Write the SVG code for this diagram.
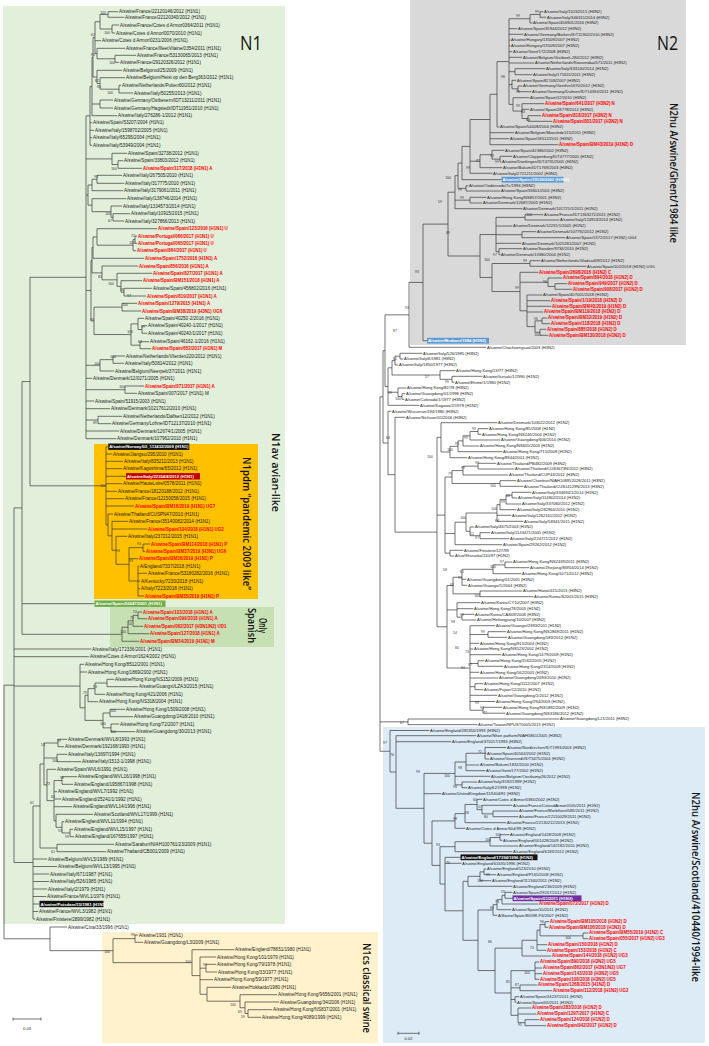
<svg xmlns="http://www.w3.org/2000/svg" width="709" height="1046" viewBox="0 0 709 1046">
<style>
.t{font:4.6px "Liberation Sans",Arial,sans-serif;fill:#1a1a1a}
.u{font:4.1px "Liberation Sans",Arial,sans-serif;fill:#1a1a1a}
.r{fill:#f00;font-weight:bold;font-size:4.45px}
.u.r{font-size:3.85px}
.w{fill:#fff;font-weight:bold;font-size:4.2px}
.u.w{font-size:3.8px}
.bs{font:3.4px "Liberation Sans",Arial,sans-serif;fill:#333;text-anchor:middle}
.edges path{fill:none;stroke:#3a3a3a;stroke-width:0.7}
.big{font-family:"Open Sans","Liberation Sans",sans-serif;font-weight:600;font-size:10.5px;fill:#111;text-anchor:middle}
.hd{font-family:"Open Sans","Liberation Sans",sans-serif;font-size:20px;fill:#111}
.sc{font:4px "Liberation Sans",Arial,sans-serif;fill:#222;text-anchor:middle}
</style>
<rect width="709" height="1046" fill="#fff"/>
<g id="backgrounds">
<rect x="3" y="6" width="282" height="918" fill="#e2efda"/>
<rect x="94" y="444" width="164" height="155" fill="#ffc000"/>
<rect x="110" y="607" width="164" height="40" fill="#c6e0b4"/>
<rect x="102" y="932" width="276" height="111" fill="#fff2cc"/>
<rect x="410" y="0" width="276" height="345" fill="#d9d9d9"/>
<rect x="383" y="727" width="322" height="316" fill="#ddebf7"/>
</g>
<g id="clade-labels">
<text class="hd" x="240" y="50" textLength="22" lengthAdjust="spacingAndGlyphs">N1</text>
<text class="hd" x="657" y="50" textLength="21" lengthAdjust="spacingAndGlyphs">N2</text>
<text class="big" transform="translate(272,472.5) rotate(90)" textLength="79" lengthAdjust="spacingAndGlyphs">N1av avian-like</text>
<text class="big" transform="translate(243,523.5) rotate(90)" textLength="133" lengthAdjust="spacingAndGlyphs">N1pdm “pandemic 2009 like”</text>
<text class="big" transform="translate(258.5,625.5) rotate(90)" textLength="15" lengthAdjust="spacingAndGlyphs">Only</text>
<text class="big" transform="translate(247.5,625.5) rotate(90)" textLength="35" lengthAdjust="spacingAndGlyphs">Spanish</text>
<text class="big" transform="translate(363,988) rotate(90)" textLength="90" lengthAdjust="spacingAndGlyphs">N1cs classical swine</text>
<text class="big" transform="translate(670,173) rotate(90)" textLength="140" lengthAdjust="spacingAndGlyphs">N2hu A/swine/Ghent/1984 like</text>
<text class="big" transform="translate(692,887) rotate(90)" textLength="190" lengthAdjust="spacingAndGlyphs">N2hu A/swine/Scotland/410440/1994-like</text>
</g>
<g id="connectors" class="edges">
<path d="M108 11.7V17.3M108 11.7H118.2M108 17.3H124.2M112 25V33M112 25H119.2M112 33H115.2M100 14.5V29M100 14.5H108M100 29H112M115 55.3V62.3M115 55.3H136.2M115 62.3H119.2M97 48.3V58.8M97 48.3H125.2M97 58.8H115M95 21.7V53.5M95 21.7H100M95 40.7H101.2M95 53.5H97M119 85.3V93M119 85.3H121.2M119 93H133.2M100 77.7V89.2M100 77.7H125.2M100 89.2H119M97 70.3V83.5M97 70.3H122.2M97 83.5H100M93 37.6V77M93 37.6H95M93 77H97M100 100V108M100 100H113.2M100 108H113.2M92 57.3V115.7M92 57.3H93M92 104H100M92 115.7H117.2M90 86.5V145.3M90 86.5H92M90 122.7H92.2M90 130.3H94.2M90 137.7H92.2M90 145.3H92.2"/>
<path d="M118 160.7V168.3M118 160.7H123.2M118 168.3H142.2M112 153.3V164.5M112 153.3H127.2M112 164.5H118M97 175.3V183.3M97 175.3H122.2M97 183.3H124.2M92 179.3V190.7M92 179.3H97M92 190.7H123.2M113 213.7V221M113 213.7H130.2M113 221H124.2M111 206V217.35M111 206H122.2M111 217.35H113M92 198.7V211.7M92 198.7H126.2M92 211.7H111M88 185V205.2M88 185H92M88 205.2H92"/>
<path d="M135 236V243.3M135 236H137.2M135 243.3H137.2M133 239.65V250.7M133 239.65H135M133 250.7H136.2M97 228.7V245.2M97 228.7H157.2M97 245.2H133M93 236.95V258.3M93 236.95H97M93 258.3H144.2M124 288.3V296M124 288.3H152.2M124 296H146.2M121 280.7V292.15M121 280.7H142.2M121 292.15H124M117 273.3V286.4M117 273.3H152.2M117 286.4H121M102 266V279.85M102 266H138.2M102 279.85H117M92 247.6V272.9M92 247.6H93M92 272.9H102M122 303.3V311M122 303.3H137.2M122 311H141.2M142 325.7V333.3M142 325.7H147.2M142 333.3H147.2M138 318.3V329.5M138 318.3H144.2M138 329.5H142M140 341.7V348.7M140 341.7H149.2M140 348.7H151.2M131 323.9V345.2M131 323.9H138M131 345.2H140M94 307.15V334.55M94 307.15H122M94 334.55H131M91 260.25V320.85M91 260.25H92M91 320.85H94"/>
<path d="M113 356V363.3M113 356H125.2M113 363.3H124.2M100 359.65V371M100 359.65H113M100 371H114.2M125 386V393.3M125 386H144.2M125 393.3H137.2M98 416.3V423.7M98 416.3H122.2M98 423.7H111.2M86 115.9V438.7M86 115.9H90M86 158.9H112M86 195.1H88M86 290.55H91M86 365.3H100M86 378.3H92.2M86 389.65H125M86 401H94.2M86 408.7H110.2M86 420H98M86 431H119.2M86 438.7H116.2"/>
<path d="M138 566V596M138 566H139.2M138 573.3H147.2M138 581H140.2M138 588.7H140.2M138 596H144.2M143 544V551.3M143 544H150.2M143 551.3H145.2M129 547.65V581M129 547.65H143M129 558.7H138.2M129 581H138M116 536.3V564.3M116 536.3H127.2M116 564.3H129M112 521.3V550.3M112 521.3H128.2M112 529H147.2M112 550.3H116M108 514V535.8M108 514H113.2M108 535.8H112M106 446.7V524.9M106 446.7H108.3M106 454H112.2M106 461.3H123.2M106 468.7H122.2M106 476.3H126M106 483.7H122.2M106 491.3H117.2M106 498.7H124.2M106 506H134.2M106 524.9H108"/>
<path d="M138 612V618.7M138 612H142.2M138 618.7H147.2M133 615.35V626.3M133 615.35H138M133 626.3H143.2M128 620.8V633.7M128 620.8H133M128 633.7H149.2M122 627.25V641.3M122 627.25H128M122 641.3H139.2M30 277.3V485.8M30 277.3H86M30 485.8H106M22 381.55V634.3M22 381.55H30M22 603.7H94.5M22 634.3H122"/>
<path d="M107 679.3V686.7M107 679.3H114.2M107 686.7H138.2M95 683V694.3M95 683H107M95 694.3H105.2M88 688.65V701.7M88 688.65H95M88 701.7H98.2M110 709.3V716.7M110 709.3H125.2M110 716.7H133.2M111 724V731.7M111 724H119.2M111 731.7H135.2M103 713V727.85M103 713H110M103 727.85H111M85 695.2V720.4M85 695.2H88M85 720.4H103M80 664.3V707.8M80 664.3H84.2M80 672H87.2M80 707.8H85"/>
<path d="M58 739.3V746.7M58 739.3H67.2M58 746.7H64.2M57 754.3V761.7M57 754.3H67.2M57 761.7H81.2M62 776.7V784.3M62 776.7H77.2M62 784.3H73.2M70 829.3V836.7M70 829.3H73.2M70 836.7H74.2M62 821.7V833M62 821.7H64.2M62 833H70M56 814.3V827.35M56 814.3H93.2M56 827.35H62M54 780.5V820.8M54 780.5H62M54 791.7H57.2M54 799H61.2M54 806.7H72.2M54 820.8H56M47 769.3V800.65M47 769.3H56.2M47 800.65H54M44 743V784.98M44 743H58M44 758H57M44 784.98H47M57 844.3V851.7M57 844.3H114.2M57 851.7H106.2M40 764V848M40 764H44M40 848H57"/>
<path d="M33 806V919M33 806H40M33 859H47.2M33 866.5H57.2M33 874H49.2M33 881.5H49.2M33 889H47.2M33 896.5H46.2M33 904H39.5M33 911.5H38.2M33 919H35.2M14 507.9V862.5M14 507.9H22M14 649H91.2M14 656.7H89.2M14 686.05H80M14 862.5H33M50 927V950.65M50 927H67.2M50 950.65H113M4 685.2V938.8M4 685.2H14M4 938.8H50"/>
<path d="M135 935V942.3M135 935H138.2M135 942.3H143.2M248 1009.7V1017.3M248 1009.7H272.2M248 1017.3H261.2M245 1002V1013.5M245 1002H279.2M245 1013.5H248M240 994.7V1007.75M240 994.7H277.2M240 1007.75H245M207 987.3V1001.2M207 987.3H231.2M207 1001.2H240M206 964.3V972M206 964.3H216.2M206 972H217.2M200 957V994.25M200 957H216.2M200 968.15H206M200 979.7H213.2M200 994.25H207M192 949.7V975.6M192 949.7H234.2M192 975.6H200M113 938.65V962.65M113 938.65H135M113 962.65H192"/>
<path d="M540 11.7V17.3M540 11.7H543.3M540 17.3H546.3M530 14.5V23M530 14.5H540M530 23H532.3M515 68.7V74.7M515 68.7H545.3M515 74.7H532.3M518 86V91.7M518 86H522.3M518 91.7H531.3M512 80.3V88.85M512 80.3H516.3M512 88.85H518M528 115.7V121.3M528 115.7H541.3M528 121.3H552.3M522 103.7V118.5M522 103.7H544.3M522 109.3H529.3M522 118.5H528M513 97.7V111.1M513 97.7H529.3M513 111.1H522M509 18.75V104.4M509 18.75H530M509 28.7H517.3M509 34.3H523.3M509 40H510.3M509 45.7H510.3M509 51.7H512.3M509 57.3H522.3M509 63H534.3M509 71.7H515M509 84.6H512M509 104.4H513M497 61.6V127M497 61.6H509M497 127H499.3M490 94.3V144.7M490 94.3H497M490 132.7H514.3M490 138.7H509.3M490 144.7H558.3M500 156.3V162M500 156.3H512.3M500 162H501.3M492 150.3V159.15M492 150.3H504.3M492 159.15H500M480 154.7V167.7M480 154.7H492M480 167.7H502.3M470 119.5V173.3M470 119.5H490M470 161.2H480M470 173.3H492.3"/>
<path d="M462 146.4V179.7M462 146.4H470M462 179.7H501.5M466 185.7V191M466 185.7H468.3M466 191H500.3M458 163.05V188.35M458 163.05H462M458 188.35H466M470 197.3V203M470 197.3H486.3M470 203H482.3M455 175.7V208.7M455 175.7H458M455 200.15H470M455 208.7H522.3M525 214.7V220M525 214.7H543.3M525 220H559.3M522 231.7V237.7M522 231.7H536.3M522 237.7H565.3M499 248.7V254.7M499 248.7H522.3M499 254.7H500.3M496 217.35V251.7M496 217.35H525M496 226H512.3M496 234.7H522M496 243.3H521.3M496 251.7H499M530 260.7V266.3M530 260.7H540.3M530 266.3H586.3M555 283.7V289.3M555 283.7H567.3M555 289.3H572.3M548 278V286.5M548 278H562.3M548 286.5H555M542 318V323.7M542 318H547.3M542 323.7H550.3M540 329.3V335.3M540 329.3H546.3M540 335.3H548.3M535 320.85V332.3M535 320.85H542M535 332.3H540M527 295V326.6M527 295H542.3M527 300.7H550.3M527 306.3H551.3M527 312H543.3M527 326.6H535M520 272.3V310.8M520 272.3H538.3M520 282.25H548M520 310.8H527M492 263.5V291.55M492 263.5H530M492 291.55H520M480 234.5V277.5M480 234.5H496M480 277.5H492M448 192.2V256M448 192.2H455M448 256H480M423 224.1V340.7M423 224.1H448M423 340.7H427M409 282.4V347.3M409 282.4H423M409 347.3H486.3"/>
<path d="M400 353.3V359M400 353.3H422.3M400 359H403.3M395 356.15V365M395 356.15H400M395 365H398.3M452 376.3V382.3M452 376.3H482.3M452 382.3H454.3M440 370.7V379.3M440 370.7H455.3M440 379.3H452M392 360.6V375M392 360.6H395M392 375H440M402 393.7V399.3M402 393.7H405.3M402 399.3H404.3M398 388V396.5M398 388H406.3M398 396.5H402M388 367.8V405.3M388 367.8H392M388 392.25H398M388 405.3H419.3M385 314.85V386.55M385 314.85H409M385 386.55H388"/>
<path d="M478 428.7V434.3M478 428.7H488.3M478 434.3H481.3M470 431.5V440M470 431.5H478M470 440H500.3M463 435.75V446M463 435.75H470M463 446H479.3M458 440.9V451.7M458 440.9H463M458 451.7H502.3M450 446.3V457.7M450 446.3H458M450 457.7H467.3M441 422.7V452M441 422.7H497.3M441 452H450M478 463.3V469M478 463.3H496.3M478 469H514.3M463 466.15V475M463 466.15H478M463 475H508.3M500 480.7V486.3M500 480.7H516.3M500 486.3H523.3M452 470.6V483.5M452 470.6H463M452 483.5H500M512 492.3V498M512 492.3H531.3M512 498H517.3M506 495.15V504M506 495.15H512M506 504H521.3M500 499.6V509.7M500 499.6H506M500 509.7H516.3M497 504.65V521.3M497 504.65H500M497 515.3H511.3M497 521.3H523.3M480 532.7V538.7M480 532.7H490.3M480 538.7H509.3M470 527V535.7M470 527H474.3M470 535.7H480M466 513V531.35M466 513H497M466 531.35H470M455 522.2V544.7M455 522.2H466M455 544.7H502.3M450 550.3V556M450 550.3H463.3M450 556H454.3M445 477.05V553.15M445 477.05H452M445 533.45H455M445 553.15H450"/>
<path d="M505 562V567.7M505 562H512.3M505 567.7H529.3M493 564.85V573.7M493 564.85H505M493 573.7H521.3M462 569.3V585.3M462 569.3H493M462 579.3H466.3M462 585.3H467.3M480 591V596.7M480 591H522.3M480 596.7H533.3M453 577.3V593.85M453 577.3H462M453 593.85H480M462 614.3V620M462 614.3H474.3M462 620H476.3M457 602.7V617.15M457 602.7H480.3M457 608.7H473.3M457 617.15H462M488 631.7V637.3M488 631.7H506.3M488 637.3H507.3M478 660.7V666.3M478 660.7H484.3M478 666.3H503.3M475 683.7V689.7M475 683.7H483.3M475 689.7H483.3M483 707.3V713.2M483 707.3H502.3M483 713.2H505.3M470 625.7V710.25M470 625.7H495.3M470 634.5H488M470 643.3H479.3M470 649H473.3M470 654.7H501.3M470 663.5H478M470 672.3H479.3M470 678H498.3M470 686.7H475M470 695.3H497.3M470 701.5H495.3M470 710.25H483M447 585.6V668M447 585.6H453M447 609.9H457M447 668H470M437 437.35V626.8M437 437.35H441M437 515.1H445M437 626.8H447M395 417.3V532.1M395 417.3H405.3M395 532.1H437M388 411.3V474.7M388 411.3H391.3M388 474.7H395M383 350.7V443M383 350.7H385M383 443H388M408 719V724.7M408 719H559.3M408 724.7H477.3"/>
<path d="M485 747.5V759M485 747.5H506.3M485 753.3H486.3M485 759H489.3M466 753.25V770.7M466 753.25H485M466 765H479.3M466 770.7H485.3M462 782V787.7M462 782H477.3M462 787.7H467.3M455 761.98V784.85M455 761.98H466M455 776.3H490.3M455 784.85H462M493 811V816.7M493 811H518.3M493 816.7H518.3M482 805.3V813.85M482 805.3H512.3M482 813.85H493M477 799.3V809.6M477 799.3H482.3M477 809.6H482M465 804.45V822.7M465 804.45H477M465 822.7H506.3M455 813.6V828.3M455 813.6H465M455 828.3H465.3M500 834.7V840.3M500 834.7H509.3M500 840.3H502.3M490 837.5V846M490 837.5H500M490 846H518.3M455 841.75V851.7M455 841.75H490M455 851.7H512.3"/>
<path d="M484 869V874.7M484 869H486.3M484 874.7H496.3M480 871.85V880.7M480 871.85H484M480 880.7H491.3M468 876.3V886.3M468 876.3H480M468 886.3H512.3M505 892.3V898.3M505 892.3H512.3M505 898.3H512.5M502 895.3V904M502 895.3H505M502 904H538.3M497 899.65V909.7M497 899.65H502M497 909.7H511.3M493 904.7V915.3M493 904.7H497M493 915.3H497.3M545 921.7V927.3M545 921.7H549.3M545 927.3H548.3M583 933V938.7M583 933H588.3M583 938.7H588.3M540 924.5V935.85M540 924.5H545M540 935.85H583M537 930.2V950.3M537 930.2H540M537 944.7H547.3M537 950.3H546.3M522 940.25V956M522 940.25H537M522 956H551.3M535 962V979.3M535 962H539.3M535 968H542.3M535 973.7H542.3M535 979.3H539.3M520 985V990.7M520 985H537.3M520 990.7H552.3M515 996.7V1002.3M515 996.7H519.3M515 1002.3H516.3M525 1019.7V1025.7M525 1019.7H539.3M525 1025.7H546.3M518 1008V1022.7M518 1008H531.3M518 1014H536.3M518 1022.7H525M511 970.65V1015.35M511 970.65H535M511 987.85H520M511 999.5H515M511 1015.35H518M495 948.1V993M495 948.1H522M495 993H511M478 910V970.55M478 910H493M478 970.55H495M463 881.3V940.3M463 881.3H468M463 940.3H478M445 857.3V910.8M445 857.3H460.5M445 863.3H461.3M445 910.8H463M440 846.7V884.05M440 846.7H455M440 884.05H445M432 820.95V865.4M432 820.95H455M432 865.4H440M424 773.4V843.2M424 773.4H455M424 793.7H441.3M424 843.2H432M396 735.7V808.3M396 735.7H476.3M396 741.7H451.3M396 808.3H424M390 730.5V772M390 730.5H429.3M390 772H396M380 396.85V751.25M380 396.85H383M380 721.85H408M380 751.25H390"/>
<path d="M13 1019H41M13 1017.5V1020.5M41 1017.5V1020.5M398 1033.3H419M398 1031.8V1034.8M419 1031.8V1034.8"/>
</g>
<g id="highlight-boxes">
<rect x="108.3" y="443.5" width="81" height="6.4" fill="#111"/>
<rect x="126" y="473.1" width="74" height="6.4" fill="#c00000"/>
<rect x="94.5" y="600.5" width="71" height="6.4" fill="#70ad47"/>
<rect x="39.5" y="900.8" width="64" height="6.4" fill="#111"/>
<rect x="501.5" y="176.8" width="62" height="5.8" fill="#5b9bd5"/>
<rect x="427" y="337.8" width="62" height="5.8" fill="#5b9bd5"/>
<rect x="460.5" y="854.4" width="77" height="5.8" fill="#111"/>
<rect x="512.5" y="895.4" width="69" height="5.8" fill="#7030a0"/>
</g>
<g id="leaves-n1" class="t">
<g id="L1"><text x="119" y="13.3">A/swine/France/22120146/2012 (H1N1)</text></g>
<g id="L2"><text x="125" y="18.9">A/swine/France/22120340/2012 (H1N1)</text></g>
<g id="L3"><text x="120" y="26.6">A/swine/France/Cotes d Armor0364/2011 (H1N1)</text></g>
<g id="L4"><text x="116" y="34.6">A/swine/Cotes d Armor/0070/2010 (H1N1)</text></g>
<g id="L5"><text x="102" y="42.3">A/swine/Cotes d Armor/0231/2006 (H1N1)</text></g>
<g id="L6"><text x="126" y="49.9">A/swine/France/IlleetVilaine/0354/2011 (H1N1)</text></g>
<g id="L7"><text x="137" y="56.9">A/swine/France/53130065/2013 (H1N1)</text></g>
<g id="L8"><text x="120" y="63.9">A/swine/France/29120326/2012 (H1N1)</text></g>
<g id="L9"><text x="123" y="71.9">A/swine/Belgorod/25/2009 (H1N1)</text></g>
<g id="L10"><text x="126" y="79.3">A/swine/Belgium/Heist op den Berg363/2012 (H1N1)</text></g>
<g id="L11"><text x="122" y="86.9">A/swine/Netherlands/Putten60/2012 (H1N1)</text></g>
<g id="L12"><text x="134" y="94.6">A/swine/Italy/50255/2013 (H1N1)</text></g>
<g id="L13"><text x="114" y="101.6">A/swine/Germany/Ostbevern/IDT13211/2011 (H1N1)</text></g>
<g id="L14"><text x="114" y="109.6">A/swine/Germany/Hagstedt/IDT11951/2010 (H1N1)</text></g>
<g id="L15"><text x="118" y="117.3">A/swine/Italy/276286-1/2012 (H1N1)</text></g>
<g id="L16"><text x="93" y="124.3">A/swine/Spain/53207/2004 (H1N1)</text></g>
<g id="L17"><text x="95" y="131.9">A/swine/Italy/1598702/2005 (H1N1)</text></g>
<g id="L18"><text x="93" y="139.3">A/swine/Italy/65295/2004 (H1N1)</text></g>
<g id="L19"><text x="93" y="146.9">A/swine/Italy/53949/2004 (H1N1)</text></g>
<g id="L20"><text x="128" y="154.9">A/swine/Spain/32738/2012 (H1N1)</text></g>
<g id="L21"><text x="124" y="162.3">A/swine/Spain/33803/2012 (H1N1)</text></g>
<g id="L22"><text class="r" x="143" y="169.9">A/swine/Spain/117/2018 (H1N1) A</text></g>
<g id="L23"><text x="123" y="176.9">A/swine/Italy/267505/2010 (H1N1)</text></g>
<g id="L24"><text x="125" y="184.9">A/swine/Italy/317775/2010 (H1N1)</text></g>
<g id="L25"><text x="124" y="192.3">A/swine/Italy/3179061/2011 (H1N1)</text></g>
<g id="L26"><text x="127" y="200.3">A/swine/Italy/138746/2014 (H1N1)</text></g>
<g id="L27"><text x="123" y="207.6">A/swine/Italy/1334573/2014 (H1N1)</text></g>
<g id="L28"><text x="131" y="215.3">A/swine/Italy/10915/2015 (H1N1)</text></g>
<g id="L29"><text x="125" y="222.6">A/swine/Italy/327866/2013 (H1N1)</text></g>
<g id="L30"><text class="r" x="158" y="230.3">A/swine/Spain/123/2016 (H1N1) U</text></g>
<g id="L31"><text class="r" x="138" y="237.6">A/swine/Portugal/066/2017 (H1N1) U</text></g>
<g id="L32"><text class="r" x="138" y="244.9">A/swine/Portugal/065/2017 (H1N1) U</text></g>
<g id="L33"><text class="r" x="137" y="252.3">A/swine/Spain/864/2017 (H1N1) U</text></g>
<g id="L34"><text class="r" x="145" y="259.9">A/swine/Spain/1752/2016 (H1N1) A</text></g>
<g id="L35"><text class="r" x="139" y="267.6">A/swine/Spain/856/2016 (H1N1) A</text></g>
<g id="L36"><text class="r" x="153" y="274.9">A/swine/Spain/827/2017 (H1N1) A</text></g>
<g id="L37"><text class="r" x="143" y="282.3">A/swine/Spain/BM151/2018 (H1N1) A</text></g>
<g id="L38"><text x="153" y="289.9">A/swine/Spain/456802/2016 (H1N1)</text></g>
<g id="L39"><text class="r" x="147" y="297.6">A/swine/Spain/819/2017 (H1N1) A</text></g>
<g id="L40"><text class="r" x="138" y="304.9">A/swine/Spain/1279/2015 (H1N1) A</text></g>
<g id="L41"><text class="r" x="142" y="312.6">A/swine/Spain/BM38/2019 (H3N1) UG6</text></g>
<g id="L42"><text x="145" y="319.9">A/swine/Spain/40250-2/2016 (H1N1)</text></g>
<g id="L43"><text x="148" y="327.3">A/swine/Spain/40240-1/2017 (H1N1)</text></g>
<g id="L44"><text x="148" y="334.9">A/swine/Spain/40240/1/2017 (H1N1)</text></g>
<g id="L45"><text x="150" y="343.3">A/swine/Spain/46162-1/2016 (H1N1)</text></g>
<g id="L46"><text class="r" x="152" y="350.3">A/swine/Spain/652/2017 (H1N1) M</text></g>
<g id="L47"><text x="126" y="357.6">A/swine/Netherlands/Vlierden220/2012 (H1N1)</text></g>
<g id="L48"><text x="125" y="364.9">A/swine/Italy/50814/2012 (H1N1)</text></g>
<g id="L49"><text x="115" y="372.6">A/swine/Belgium/Neerpelt/37/2011 (H1N1)</text></g>
<g id="L50"><text x="93" y="379.9">A/swine/Denmark/12/0271/2005 (H1N1)</text></g>
<g id="L51"><text class="r" x="145" y="387.6">A/swine/Spain/071/2017 (H1N1) A</text></g>
<g id="L52"><text x="138" y="394.9">A/swine/Spain/007/2017 (H1N1) M</text></g>
<g id="L53"><text x="95" y="402.6">A/swine/Spain/51915/2003 (H1N1)</text></g>
<g id="L54"><text x="111" y="410.3">A/swine/Denmark/10217612/2010 (H1N1)</text></g>
<g id="L55"><text x="123" y="417.9">A/swine/Netherlands/Dalfsen12/2012 (H1N1)</text></g>
<g id="L56"><text x="112" y="425.3">A/swine/Germany/Lohne/IDT12137/2010 (H1N1)</text></g>
<g id="L57"><text x="120" y="432.6">A/swine/Denmark/12674/1/2005 (H1N1)</text></g>
<g id="L58"><text x="117" y="440.3">A/swine/Denmark/107962/2010 (H1N1)</text></g>
<g id="L59"><text class="w" x="109.3" y="448.2">A/swine/Norway/02_113432/2009 (H1N1)</text></g>
<g id="L60"><text x="113" y="455.6">A/swine/Jiangsu/295/2010 (H1N1)</text></g>
<g id="L61"><text x="124" y="462.9">A/swine/Italy/835211/2013 (H1N1)</text></g>
<g id="L62"><text x="123" y="470.3">A/swine/Kagoshima/65/2012 (H1N1)</text></g>
<g id="L63"><text class="w" x="127" y="477.8">A/swine/Italy/22354/4/2012 (H1N1)</text></g>
<g id="L64"><text x="123" y="485.3">A/swine/HauteLoire/0578/2011 (H1N1)</text></g>
<g id="L65"><text x="118" y="492.9">A/swine/France/18120188/2012 (H1N1)</text></g>
<g id="L66"><text x="125" y="500.3">A/swine/France/12150058/2015 (H1N1)</text></g>
<g id="L67"><text class="r" x="135" y="507.6">A/swine/Spain/BM16/2019 (H1N1) UG7</text></g>
<g id="L68"><text x="114" y="515.6">A/swine/Thailand/CUSPN47/2010 (H1N1)</text></g>
<g id="L69"><text x="129" y="522.9">A/swine/France/35140082/2014 (H1N1)</text></g>
<g id="L70"><text class="r" x="148" y="530.6">A/swine/Spain/104/2018 (H1N1) UG2</text></g>
<g id="L71"><text x="128" y="537.9">A/swine/Italy/237212/2015 (H1N1)</text></g>
<g id="L72"><text class="r" x="151" y="545.6">A/swine/Spain/BM114/2018 (H1N1) P</text></g>
<g id="L73"><text class="r" x="146" y="552.9">A/swine/Spain/BM37/2019 (H3N1) UG6</text></g>
<g id="L74"><text class="r" x="139" y="560.3">A/swine/Spain/BM36/2019 (H1N1) P</text></g>
<g id="L75"><text x="140" y="567.6">A/England/7337/2018 (H1N1)</text></g>
<g id="L76"><text x="148" y="574.9">A/swine/France/53180282/2016 (H1N1)</text></g>
<g id="L77"><text x="141" y="582.6">A/Kentucky/7230/2018 (H1N1)</text></g>
<g id="L78"><text x="141" y="590.3">A/Italy/7223/2018 (H1N1)</text></g>
<g id="L79"><text class="r" x="145" y="597.6">A/swine/Spain/BM35/2019 (H1N1) P</text></g>
<g id="L80"><text class="w" x="95.5" y="605.2">A/swine/Spain/50647/2001 (H1N1)</text></g>
<g id="L81"><text class="r" x="143" y="613.6">A/swine/Spain/103/2018 (H1N1) A</text></g>
<g id="L82"><text class="r" x="148" y="620.3">A/swine/Spain/099/2018 (H1N1) A</text></g>
<g id="L83"><text class="r" x="144" y="627.9">A/swine/Spain/062/2017 (H3N1/N2) UD1</text></g>
<g id="L84"><text class="r" x="150" y="635.3">A/swine/Spain/127/2018 (H1N1) A</text></g>
<g id="L85"><text class="r" x="140" y="642.9">A/swine/Spain/BM34/2019 (H1N1) M</text></g>
<g id="L86"><text x="92" y="650.6">A/swine/Italy/172336/2001 (H1N1)</text></g>
<g id="L87"><text x="90" y="658.3">A/swine/Cotes d Armor/1624/2002 (H1N1)</text></g>
<g id="L88"><text x="85" y="665.9">A/swine/Hong Kong/8512/2001 (H1N1)</text></g>
<g id="L89"><text x="88" y="673.6">A/swine/Hong Kong/1869/2002 (H1N1)</text></g>
<g id="L90"><text x="115" y="680.9">A/swine/Hong Kong/NS152/2009 (H1N1)</text></g>
<g id="L91"><text x="139" y="688.3">A/swine/Guangxi/LZA3/2015 (H1N1)</text></g>
<g id="L92"><text x="106" y="695.9">A/swine/Hong Kong/421/2006 (H1N1)</text></g>
<g id="L93"><text x="99" y="703.3">A/swine/Hong Kong/NS318/2004 (H1N1)</text></g>
<g id="L94"><text x="126" y="710.9">A/swine/Hong Kong/1509/2008 (H1N1)</text></g>
<g id="L95"><text x="134" y="718.3">A/swine/Guangdong/2418/2010 (H1N1)</text></g>
<g id="L96"><text x="120" y="725.6">A/swine/Hong Kong/72/2007 (H1N1)</text></g>
<g id="L97"><text x="136" y="733.3">A/swine/Guangdong/30/2013 (H1N1)</text></g>
<g id="L98"><text x="68" y="740.9">A/swine/Denmark/WVL8/1993 (H1N1)</text></g>
<g id="L99"><text x="65" y="748.3">A/swine/Denmark/192168/1993 (H1N1)</text></g>
<g id="L100"><text x="68" y="755.9">A/swine/Italy/13697/1994 (H1N1)</text></g>
<g id="L101"><text x="82" y="763.3">A/swine/Italy/1513-1/1998 (H1N1)</text></g>
<g id="L102"><text x="57" y="770.9">A/swine/Spain/WVL6/1991 (H1N1)</text></g>
<g id="L103"><text x="78" y="778.3">A/swine/England/WVL16/1998 (H1N1)</text></g>
<g id="L104"><text x="74" y="785.9">A/swine/England/195867/1998 (H1N1)</text></g>
<g id="L105"><text x="58" y="793.3">A/swine/England/WVL7/1992 (H1N1)</text></g>
<g id="L106"><text x="62" y="800.6">A/swine/England/25241/1/1992 (H1N1)</text></g>
<g id="L107"><text x="73" y="808.3">A/swine/England/WVL14/1996 (H1N1)</text></g>
<g id="L108"><text x="94" y="815.9">A/swine/Scotland/WVL17/1999 (H1N1)</text></g>
<g id="L109"><text x="65" y="823.3">A/swine/England/WVL11/1994 (H1N1)</text></g>
<g id="L110"><text x="74" y="830.9">A/swine/England/WVL15/1997 (H1N1)</text></g>
<g id="L111"><text x="75" y="838.3">A/swine/England/167655/1997 (H1N1)</text></g>
<g id="L112"><text x="115" y="845.9">A/swine/Saraburi/NIAH100761/23/2009 (H1N1)</text></g>
<g id="L113"><text x="107" y="853.3">A/swine/Thailand/CB001/2009 (H1N1)</text></g>
<g id="L114"><text x="48" y="860.6">A/swine/Belgium/WVL5/1989 (H1N1)</text></g>
<g id="L115"><text x="58" y="868.1">A/swine/Belgium/WVL13/1995 (H1N1)</text></g>
<g id="L116"><text x="50" y="875.6">A/swine/Italy/671/1987 (H1N1)</text></g>
<g id="L117"><text x="50" y="883.1">A/swine/Italy/526/1985 (H1N1)</text></g>
<g id="L118"><text x="48" y="890.6">A/swine/Italy/2/1979 (H1N1)</text></g>
<g id="L119"><text x="47" y="898.1">A/swine/France/WVL1/1979 (H1N1)</text></g>
<g id="L120"><text class="w" x="40.5" y="905.5">A/swine/Potsdam/15/1981 (H1N1)</text></g>
<g id="L121"><text x="39" y="913.1">A/swine/France/WVL3/1982 (H1N1)</text></g>
<g id="L122"><text x="36" y="920.6">A/swine/Finistere/2899/1982 (H1N1)</text></g>
<g id="L123"><text x="68" y="928.6">A/swine/Cina/33/1996 (H1N1)</text></g>
</g>
<g id="leaves-n1cs" class="t">
<g id="C1"><text x="139" y="936.6">A/swine/1931 (H1N1)</text></g>
<g id="C2"><text x="144" y="943.9">A/swine/Guangdong/L3/2009 (H1N1)</text></g>
<g id="C3"><text x="235" y="951.3">A/swine/England/78651/1980 (H1N1)</text></g>
<g id="C4"><text x="217" y="958.6">A/swine/Hong Kong/101/1979 (H1N1)</text></g>
<g id="C5"><text x="217" y="965.9">A/swine/Hong Kong/79/1978 (H1N1)</text></g>
<g id="C6"><text x="218" y="973.6">A/swine/Hong Kong/33/1977 (H1N1)</text></g>
<g id="C7"><text x="214" y="981.3">A/swine/Hong Kong/59/1977 (H1N1)</text></g>
<g id="C8"><text x="232" y="988.9">A/swine/Hokkaido/1980 (H1N1)</text></g>
<g id="C9"><text x="278" y="996.3">A/swine/Hong Kong/9656/2001 (H1N1)</text></g>
<g id="C10"><text x="280" y="1003.6">A/swine/Guangdong/34/2006 (H1N1)</text></g>
<g id="C11"><text x="273" y="1011.3">A/swine/Hong Kong/NS837/2001 (H1N1)</text></g>
<g id="C12"><text x="262" y="1018.9">A/swine/Hong Kong/4089/1999 (H1N1)</text></g>
</g>
<g id="leaves-n2" class="u">
<g id="R1"><text x="544" y="13.15">A/swine/Italy/1103/2015 (H3N2)</text></g>
<g id="R2"><text x="547" y="18.75">A/swine/Italy/346315/2014 (H3N2)</text></g>
<g id="R3"><text x="533" y="24.45">A/swine/Spain/456901/2016 (H3N2)</text></g>
<g id="R4"><text x="518" y="30.15">A/swine/Spain/35944/2012 (H3N2)</text></g>
<g id="R5"><text x="524" y="35.75">A/swine/Germany/Borken/IDT11902/2010 (H3N2)</text></g>
<g id="R6"><text x="511" y="41.45">A/swine/Hungary/13509/2007 (H3N2)</text></g>
<g id="R7"><text x="511" y="47.15">A/swine/Hungary/13509/2007 (H3N2)</text></g>
<g id="R8"><text x="513" y="53.15">A/swine/Gent/172/2008 (H3N2)</text></g>
<g id="R9"><text x="523" y="58.75">A/swine/Belgium/Gistbeek-284/2012 (H3N2)</text></g>
<g id="R10"><text x="535" y="64.45">A/swine/Netherlands/Roosendaal571/2011 (H3N2)</text></g>
<g id="R11"><text x="546" y="70.15">A/swine/Italy/333140/2014 (H1N2)</text></g>
<g id="R12"><text x="533" y="76.15">A/swine/Italy/171655/2011 (H3N2)</text></g>
<g id="R13"><text x="517" y="81.75">A/swine/Spain/82108/2007 (H3N2)</text></g>
<g id="R14"><text x="523" y="87.45">A/swine/Germany/Genthin1670/2012 (H1N2)</text></g>
<g id="R15"><text x="532" y="93.15">A/swine/Germany/Dulmen/IDT14394/2011 (H1N2)</text></g>
<g id="R16"><text x="530" y="99.15">A/swine/Spain/12/2010 (H3N2)</text></g>
<g id="R17"><text class="r" x="545" y="105.15">A/swine/Spain/641/2017 (H3N2) N</text></g>
<g id="R18"><text x="530" y="110.75">A/swine/Spain/28778/2012 (H3N2)</text></g>
<g id="R19"><text class="r" x="542" y="117.15">A/swine/Spain/818/2017 (H3N2) N</text></g>
<g id="R20"><text class="r" x="553" y="122.75">A/swine/Spain/801/2017 (H3N2) N</text></g>
<g id="R21"><text x="500" y="128.45">A/swine/Spain/54008/2004 (H3N2)</text></g>
<g id="R22"><text x="515" y="134.15">A/swine/Belgium/Mooslede515/2011 (H3N2)</text></g>
<g id="R23"><text x="510" y="140.15">A/swine/Spain/18512/2011 (H3N2)</text></g>
<g id="R24"><text class="r" x="559" y="146.15">A/swine/Spain/BM43/2019 (H1N2) D</text></g>
<g id="R25"><text x="505" y="151.75">A/swine/Spain/42386/2002 (H3N2)</text></g>
<g id="R26"><text x="513" y="157.75">A/swine/Cloppenburg/IDT4777/2005 (H1N2)</text></g>
<g id="R27"><text x="502" y="163.45">A/swine/Doetlingen/IDT4735/2005 (H1N2)</text></g>
<g id="R28"><text x="503" y="169.15">A/swine/Bakum/IDT1769/2003 (H3N2)</text></g>
<g id="R29"><text x="493" y="174.75">A/swine/Italy/2721211/2002 (H3N2)</text></g>
<g id="R30"><text class="w" x="502.5" y="181.1">A/swine/Spain/39139/2002 (H3N2)</text></g>
<g id="R31"><text x="469" y="187.15">A/swine/Oedenrode/7c/1996 (H3N2)</text></g>
<g id="R32"><text x="501" y="192.45">A/swine/Spain/33601/2001 (H3N2)</text></g>
<g id="R33"><text x="487" y="198.75">A/swine/Hong Kong/NS857/2001 (H3N2)</text></g>
<g id="R34"><text x="483" y="204.45">A/swine/Denmark/12687/2003 (H1N2)</text></g>
<g id="R35"><text x="523" y="210.15">A/swine/Denmark/101725/1/2011 (H1N2)</text></g>
<g id="R36"><text x="544" y="216.15">A/swine/France/IDT1363272/2011 (H1N2)</text></g>
<g id="R37"><text x="560" y="221.45">A/swine/Italy/124953/2014 (H1N2)</text></g>
<g id="R38"><text x="513" y="227.45">A/swine/Denmark/12231/1/2005 (H1N2)</text></g>
<g id="R39"><text x="537" y="233.15">A/swine/Denmark/107792/2012 (H1N2)</text></g>
<g id="R40"><text x="566" y="239.15">A/swine/Spain/1372/2017 (H1N2) UG4</text></g>
<g id="R41"><text x="522" y="244.75">A/swine/Denmark/1025281/2007 (H1N2)</text></g>
<g id="R42"><text x="523" y="250.15">A/swine/Sweden/9736/2010 (H1N2)</text></g>
<g id="R43"><text x="501" y="256.15">A/swine/Denmark/13380/2004 (H1N2)</text></g>
<g id="R44"><text x="541" y="262.15">A/swine/Netherlands/Gladsa409/2012 (H1N2)</text></g>
<g id="R45"><text x="587" y="267.75">A/swine/Spain/102/2018 (H1N2) UG1</text></g>
<g id="R46"><text class="r" x="539" y="273.75">A/swine/Spain/2698/2016 (H1N2) C</text></g>
<g id="R47"><text class="r" x="563" y="279.45">A/swine/Spain/894/2018 (H1N2) D</text></g>
<g id="R48"><text class="r" x="568" y="285.15">A/swine/Spain/949/2017 (H1N2) D</text></g>
<g id="R49"><text class="r" x="573" y="290.75">A/swine/Spain/908/2017 (H1N2) D</text></g>
<g id="R50"><text x="543" y="296.45">A/swine/Spain/407001/2018 (H1N2)</text></g>
<g id="R51"><text class="r" x="551" y="302.15">A/swine/Spain/1/19/2018 (H1N2) D</text></g>
<g id="R52"><text class="r" x="552" y="307.75">A/swine/Spain/BM40/2019 (H1N2) D</text></g>
<g id="R53"><text class="r" x="544" y="313.45">A/swine/Spain/BM119/2018 (H1N2) D</text></g>
<g id="R54"><text class="r" x="548" y="319.45">A/swine/Spain/BM32/2019 (H1N2) D</text></g>
<g id="R55"><text class="r" x="551" y="325.15">A/swine/Spain/118/2018 (H1N2) D</text></g>
<g id="R56"><text class="r" x="547" y="330.75">A/swine/Spain/885/2018 (H1N2) D</text></g>
<g id="R57"><text class="r" x="549" y="336.75">A/swine/Spain/BM130/2018 (H1N2) D</text></g>
<g id="R58"><text class="w" x="428" y="342.1">A/swine/Brabant/1984 (H3N2)</text></g>
<g id="R59"><text x="487" y="348.75">A/swine/Chachoengsao/2003 (H3N2)</text></g>
<g id="R60"><text x="423" y="354.75">A/swine/Italy/526/1985 (H3N2)</text></g>
<g id="R61"><text x="404" y="360.45">A/swine/Italy/6/1981 (H3N2)</text></g>
<g id="R62"><text x="399" y="366.45">A/swine/Italy/1850/1977 (H3N2)</text></g>
<g id="R63"><text x="456" y="372.15">A/swine/Hong Kong/13/77 (H3N2)</text></g>
<g id="R64"><text x="483" y="377.75">A/swine/Isesaki/1/1990 (H1N2)</text></g>
<g id="R65"><text x="455" y="383.75">A/swine/Ehime/1/1980 (H1N2)</text></g>
<g id="R66"><text x="407" y="389.45">A/swine/Hong Kong/82/78 (H3N2)</text></g>
<g id="R67"><text x="406" y="395.15">A/swine/Guangdong/01/1998 (H3N2)</text></g>
<g id="R68"><text x="405" y="400.75">A/swine/Colorado/1/1977 (H3N2)</text></g>
<g id="R69"><text x="420" y="406.75">A/swine/Kagawa/2/1978 (H1N2)</text></g>
<g id="R70"><text x="392" y="412.75">A/swine/Wisconsin/194/1980 (H3N2)</text></g>
<g id="R71"><text x="406" y="418.75">A/swine/Sichuan/01/2006 (H3N2)</text></g>
<g id="R72"><text x="498" y="424.15">A/swine/Denmark/103022/2012 (H1N2)</text></g>
<g id="R73"><text x="489" y="430.15">A/swine/Hong Kong/85/2008 (H1N2)</text></g>
<g id="R74"><text x="482" y="435.75">A/swine/Hong Kong/NS246/2004 (H1N2)</text></g>
<g id="R75"><text x="501" y="441.45">A/swine/Guangdong/606/2010 (H1N2)</text></g>
<g id="R76"><text x="480" y="447.45">A/swine/Hong Kong/NS605/2003 (H1N2)</text></g>
<g id="R77"><text x="503" y="453.15">A/swine/Hong Kong/715/2008 (H1N2)</text></g>
<g id="R78"><text x="468" y="459.15">A/swine/Hong Kong/8944/2001 (H1N2)</text></g>
<g id="R79"><text x="497" y="464.75">A/swine/Thailand/PB482/2009 (H3N2)</text></g>
<g id="R80"><text x="515" y="470.45">A/swine/Thailand/CUS3673N/2012 (H3N2)</text></g>
<g id="R81"><text x="509" y="476.45">A/swine/Thailand/CUP43/2012 (H3N2)</text></g>
<g id="R82"><text x="517" y="482.15">A/swine/Chonburi/NIAH108952028/2011 (H3N2)</text></g>
<g id="R83"><text x="524" y="487.75">A/swine/Thailand/CUS14129N/2013 (H3N2)</text></g>
<g id="R84"><text x="532" y="493.75">A/swine/Italy/334694/1/2014 (H1N2)</text></g>
<g id="R85"><text x="518" y="499.45">A/swine/Italy/114802/2014 (H1N2)</text></g>
<g id="R86"><text x="522" y="505.45">A/swine/Italy/337080/2012 (H1N2)</text></g>
<g id="R87"><text x="517" y="511.15">A/swine/Italy/282964/2010 (H1N2)</text></g>
<g id="R88"><text x="512" y="516.75">A/swine/Italy/1262161/2012 (H1N2)</text></g>
<g id="R89"><text x="524" y="522.75">A/swine/Italy/58341/2015 (H1N2)</text></g>
<g id="R90"><text x="475" y="528.45">A/swine/Italy/4675/2003 (H1N2)</text></g>
<g id="R91"><text x="491" y="534.15">A/swine/Italy/1143471/2005 (H1N2)</text></g>
<g id="R92"><text x="510" y="540.15">A/swine/Italy/224721/2012 (H1N2)</text></g>
<g id="R93"><text x="503" y="546.15">A/swine/Spain/29262/2012 (H1N2)</text></g>
<g id="R94"><text x="464" y="551.75">A/swine/Finistere/127/99</text></g>
<g id="R95"><text x="455" y="557.45">A/sw/Shizuoka/110/97 (H1N2)</text></g>
<g id="R96"><text x="513" y="563.45">A/swine/Hong Kong/NS2439/2011 (H3N2)</text></g>
<g id="R97"><text x="530" y="569.15">A/swine/Zhejiang/SW04/2014 (H1N2)</text></g>
<g id="R98"><text x="522" y="575.15">A/swine/Hong Kong/1071/2012 (H3N2)</text></g>
<g id="R99"><text x="467" y="580.75">A/swine/Guangdong/01/2005 (H3N2)</text></g>
<g id="R100"><text x="468" y="586.75">A/swine/Guangxi/1/2004 (H3N2)</text></g>
<g id="R101"><text x="523" y="592.45">A/swine/Hanoi/415/2013 (H3N2)</text></g>
<g id="R102"><text x="534" y="598.15">A/swine/Korea/S2001/2015 (H3N2)</text></g>
<g id="R103"><text x="481" y="604.15">A/swine/Korea/CY10/2007 (H3N2)</text></g>
<g id="R104"><text x="474" y="610.15">A/swine/Hong Kong/78/2003 (H1N2)</text></g>
<g id="R105"><text x="475" y="615.75">A/swine/Korea/CAS09/2008 (H3N2)</text></g>
<g id="R106"><text x="477" y="621.45">A/swine/Heilongjiang/10/2007 (H3N2)</text></g>
<g id="R107"><text x="496" y="627.15">A/swine/Guangxi/2893/2011 (H1N2)</text></g>
<g id="R108"><text x="507" y="633.15">A/swine/Hong Kong/NS2869/2011 (H1N2)</text></g>
<g id="R109"><text x="508" y="638.75">A/swine/Guangdong/583/2012 (H1N2)</text></g>
<g id="R110"><text x="480" y="644.75">A/swine/Hong Kong/915/2004 (H1N2)</text></g>
<g id="R111"><text x="474" y="650.45">A/swine/Hong Kong/NS523/2002 (H1N2)</text></g>
<g id="R112"><text x="502" y="656.15">A/swine/Hong Kong/1479/2009 (H1N2)</text></g>
<g id="R113"><text x="485" y="662.15">A/swine/Hong Kong/1562/2005 (H1N2)</text></g>
<g id="R114"><text x="504" y="667.75">A/swine/Hong Kong/2314/2009 (H1N2)</text></g>
<g id="R115"><text x="480" y="673.75">A/swine/Hong Kong/562/2005 (H1N2)</text></g>
<g id="R116"><text x="499" y="679.45">A/swine/Guangdong/2693/2010 (H1N2)</text></g>
<g id="R117"><text x="484" y="685.15">A/swine/Hong Kong/1112/2007 (H1N2)</text></g>
<g id="R118"><text x="484" y="691.15">A/swine/Fujian/12/2010 (H1N2)</text></g>
<g id="R119"><text x="498" y="696.75">A/swine/Guangdong/1/2012 (H1N2)</text></g>
<g id="R120"><text x="496" y="702.95">A/swine/Hong Kong/294/2009 (H1N2)</text></g>
<g id="R121"><text x="503" y="708.75">A/swine/Hong Kong/NS1892/2009 (H1N2)</text></g>
<g id="R122"><text x="506" y="714.65">A/swine/Guangdong/NS3186/2012 (H1N2)</text></g>
<g id="R123"><text x="560" y="720.45">A/swine/Guangdong/L21/2011 (H3N2)</text></g>
<g id="R124"><text x="478" y="726.15">A/swine/Taiwan/NPUST0005/2013 (H1N2)</text></g>
<g id="R125"><text x="430" y="731.95">A/swine/England/285350/1993 (H3N2)</text></g>
<g id="R126"><text x="477" y="737.15">A/swine/Nhon pathom/NIAH5861/2005 (H3N2)</text></g>
<g id="R127"><text x="452" y="743.15">A/swine/England/375017/1993 (H3N2)</text></g>
<g id="R128"><text x="507" y="748.95">A/swine/Nordkirchen/IDT1993/2003 (H3N2)</text></g>
<g id="R129"><text x="487" y="754.75">A/swine/Spain/40564/2002 (H1N2)</text></g>
<g id="R130"><text x="490" y="760.45">A/swine/Granstedt/IDT3475/2004 (H1N2)</text></g>
<g id="R131"><text x="480" y="766.45">A/swine/Bakum/1832/2000 (H1N2)</text></g>
<g id="R132"><text x="486" y="772.15">A/swine/Gent/177/2002 (H1N2)</text></g>
<g id="R133"><text x="491" y="777.75">A/swine/Belgium/Oostkamp26/2012 (H1N2)</text></g>
<g id="R134"><text x="478" y="783.45">A/swine/Italy/3592/1999 (H1N2)</text></g>
<g id="R135"><text x="468" y="789.15">A/swine/Italy/62/1998 (H1N2)</text></g>
<g id="R136"><text x="442" y="795.15">A/swine/UnitedKingdom/119404/91 (H3N2)</text></g>
<g id="R137"><text x="483" y="800.75">A/swine/Cotes d Armor/0384/2002 (H1N2)</text></g>
<g id="R138"><text x="513" y="806.75">A/swine/France/CotesdArmor0105/2011 (H1N2)</text></g>
<g id="R139"><text x="519" y="812.45">A/swine/France/Morbihan0586/2011 (H1N2)</text></g>
<g id="R140"><text x="519" y="818.15">A/swine/France/22110029/2011 (H1N2)</text></g>
<g id="R141"><text x="507" y="824.15">A/swine/France/22130212/2013 (H1N2)</text></g>
<g id="R142"><text x="466" y="829.75">A/swine/Cotes d Armor/604/99 (H1N2)</text></g>
<g id="R143"><text x="510" y="836.15">A/swine/England/1428/2009 (H1N2)</text></g>
<g id="R144"><text x="503" y="841.75">A/swine/England/001428/2009 (H1N2)</text></g>
<g id="R145"><text x="519" y="847.45">A/swine/England/142182/2010 (H1N2)</text></g>
<g id="R146"><text x="513" y="853.15">A/swine/England/6183/2012 (H1N2)</text></g>
<g id="R147"><text class="w" x="461.5" y="858.7">A/swine/England/17394/1996 (H1N2)</text></g>
<g id="R148"><text x="462" y="864.75">A/swine/England/61635/1996 (H1N2)</text></g>
<g id="R149"><text x="487" y="870.45">A/swine/England/523/2010 (H1N2)</text></g>
<g id="R150"><text x="497" y="876.15">A/swine/England/P165/2008 (H1N2)</text></g>
<g id="R151"><text x="492" y="882.15">A/swine/England/112340/2011 (H1N2)</text></g>
<g id="R152"><text x="513" y="887.75">A/swine/England/236/2009 (H1N2)</text></g>
<g id="R153"><text x="513" y="893.75">A/swine/Spain/29267/2012 (H1N2)</text></g>
<g id="R154"><text class="w" x="513.5" y="899.7">A/swine/Spain/01/2011 (H1N2)</text></g>
<g id="R155"><text class="r" x="539" y="905.45">A/swine/Spain/072/2017 (H1N2) D</text></g>
<g id="R156"><text x="512" y="911.15">A/swine/Spain/10/2011 (H1N2)</text></g>
<g id="R157"><text x="498" y="916.75">A/Swine/Spain/80598-P4/2007 (H1N2)</text></g>
<g id="R158"><text class="r" x="550" y="923.15">A/swine/Spain/BM105/2018 (H1N2) D</text></g>
<g id="R159"><text class="r" x="549" y="928.75">A/swine/Spain/BM106/2018 (H1N2) D</text></g>
<g id="R160"><text class="r" x="589" y="934.45">A/swine/Spain/BM55/2019 (H1N2) C</text></g>
<g id="R161"><text class="r" x="589" y="940.15">A/swine/Spain/055/2017 (H1N2) UG3</text></g>
<g id="R162"><text class="r" x="548" y="946.15">A/swine/Spain/150/2018 (H1N2) D</text></g>
<g id="R163"><text class="r" x="547" y="951.75">A/swine/Spain/153/2018 (H1N2) C</text></g>
<g id="R164"><text class="r" x="552" y="957.45">A/swine/Spain/144/2018 (H1N2) UG3</text></g>
<g id="R165"><text class="r" x="540" y="963.45">A/swine/Spain/890/2018 (H3N2) UG5</text></g>
<g id="R166"><text class="r" x="543" y="969.45">A/swine/Spain/862/2017 (H3N1/N2) UG7</text></g>
<g id="R167"><text class="r" x="543" y="975.15">A/swine/Spain/143/2018 (H3N2) UG5</text></g>
<g id="R168"><text class="r" x="540" y="980.75">A/swine/Spain/108/2018 (H3N2) UG5</text></g>
<g id="R169"><text class="r" x="538" y="986.45">A/swine/Spain/1268/2015 (H1N2) D</text></g>
<g id="R170"><text class="r" x="553" y="992.15">A/swine/Spain/112/2018 (H1N2) UG2</text></g>
<g id="R171"><text x="520" y="998.15">A/swine/Spain/24237/2011 (H1N2)</text></g>
<g id="R172"><text x="517" y="1003.75">A/swine/Spain/06/2011 (H1N2)</text></g>
<g id="R173"><text class="r" x="532" y="1009.45">A/swine/Spain/283/2016 (H1N2) D</text></g>
<g id="R174"><text class="r" x="537" y="1015.45">A/swine/Spain/1297/2017 (H1N2) C</text></g>
<g id="R175"><text class="r" x="540" y="1021.15">A/swine/Spain/124/2018 (H1N2) D</text></g>
<g id="R176"><text class="r" x="547" y="1027.15">A/swine/Spain/942/2017 (H1N2) D</text></g>
</g>
<g id="bootstrap" class="bs">
<text x="103" y="13.5">100</text><text x="107" y="33.5">100</text><text x="93" y="36">62</text><text x="93" y="56">93</text><text x="112" y="64">100</text><text x="97" y="82">62</text><text x="99" y="88">85</text><text x="110" y="94">100</text><text x="114" y="170">100</text>
<text x="96" y="178">93</text><text x="108" y="215">100</text><text x="110" y="222">67</text><text x="133" y="237">72</text><text x="132" y="244">100</text><text x="100" y="278">85</text><text x="111" y="285">100</text><text x="122" y="291">96</text><text x="129" y="297">97</text><text x="125" y="306">100</text><text x="92" y="321">99</text><text x="143" y="328">99</text><text x="130" y="333">100</text>
<text x="140" y="343">84</text><text x="113" y="358">100</text><text x="97" y="365">100</text><text x="122" y="388">100</text><text x="95" y="424">89</text><text x="103" y="487">100</text>
<text x="139" y="545">93</text><text x="118" y="552">93</text><text x="131" y="562">93</text><text x="135" y="613">53</text><text x="132" y="619">72</text><text x="130" y="625">54</text><text x="123" y="633">100</text>
<text x="95" y="688">93</text><text x="85" y="694">79</text><text x="113" y="712">100</text><text x="103" y="725">100</text><text x="113" y="733">100</text><text x="59" y="742">99</text><text x="43" y="746">53</text><text x="55" y="762">100</text><text x="62" y="779">99</text><text x="48" y="785">73</text><text x="53" y="798">63</text><text x="32" y="804">61</text><text x="60" y="832">93</text><text x="67" y="838">99</text><text x="53" y="853">62</text>
<text x="133" y="936">99</text><text x="107" y="953">100</text><text x="188" y="963">100</text><text x="205" y="966">99</text><text x="233" y="1006">100</text><text x="240" y="1013">65</text><text x="243" y="1018">59</text>
<text x="537" y="13">99</text><text x="518" y="17">99</text><text x="503" y="78">98</text><text x="518" y="93">99</text><text x="518" y="107">99</text><text x="523" y="113">83</text><text x="528" y="121">63</text><text x="492" y="157">92</text><text x="497" y="163">99</text><text x="478" y="162">87</text><text x="468" y="169">99</text>
<text x="448" y="179">100</text><text x="460" y="191">99</text><text x="462" y="199">99</text><text x="440" y="203">59</text><text x="529" y="216">100</text><text x="448" y="234">89</text><text x="495" y="256">97</text><text x="487" y="261">100</text><text x="525" y="262">99</text><text x="417" y="273">93</text><text x="545" y="283">96</text><text x="517" y="289">99</text><text x="536" y="320">96</text><text x="537" y="336">100</text><text x="407" y="309">93</text><text x="395" y="332">87</text>
<text x="395" y="360">61</text><text x="427" y="378">57</text><text x="447" y="383">99</text><text x="390" y="394">99</text><text x="398" y="400">100</text><text x="388" y="439">64</text><text x="430" y="458">100</text><text x="450" y="451">100</text><text x="457" y="445">99</text><text x="466" y="439">99</text><text x="474" y="430">99</text><text x="477" y="464">99</text><text x="463" y="469">99</text><text x="450" y="475">79</text><text x="493" y="487">100</text><text x="508" y="497">68</text><text x="503" y="503">99</text><text x="494" y="510">100</text><text x="497" y="522">64</text><text x="463" y="519">100</text>
<text x="472" y="535">52</text><text x="477" y="539">97</text><text x="445" y="571">58</text><text x="502" y="563">97</text><text x="493" y="568">100</text><text x="462" y="573">61</text><text x="460" y="579">91</text><text x="452" y="586">63</text><text x="477" y="597">100</text><text x="462" y="616">99</text><text x="453" y="623">98</text><text x="455" y="634">54</text><text x="483" y="633">99</text><text x="457" y="649">80</text><text x="467" y="653">73</text><text x="463" y="669">94</text><text x="470" y="666">97</text>
<text x="477" y="704">99</text><text x="482" y="709">93</text><text x="485" y="714">77</text><text x="402" y="724">67</text><text x="385" y="744">97</text><text x="392" y="756">76</text><text x="480" y="753">72</text><text x="460" y="769">98</text><text x="447" y="777">100</text><text x="455" y="788">98</text><text x="418" y="773">99</text><text x="475" y="801">60</text><text x="480" y="808">57</text><text x="467" y="814">98</text><text x="486" y="818">80</text><text x="455" y="820">98</text><text x="498" y="836">100</text><text x="488" y="841">100</text><text x="438" y="846">93</text><text x="448" y="864">70</text>
<text x="488" y="876">99</text><text x="480" y="882">100</text><text x="503" y="893">59</text><text x="497" y="903">73</text><text x="492" y="909">60</text><text x="542" y="923">96</text><text x="568" y="939">100</text><text x="490" y="943">86</text><text x="532" y="949">74</text><text x="527" y="974">100</text><text x="508" y="983">85</text><text x="517" y="986">87</text><text x="520" y="1026">95</text>
</g>
<g id="scale-bars">
<text class="sc" x="27" y="1030">0.03</text>
<text class="sc" x="408.5" y="1040">0.02</text>
</g>
</svg>
